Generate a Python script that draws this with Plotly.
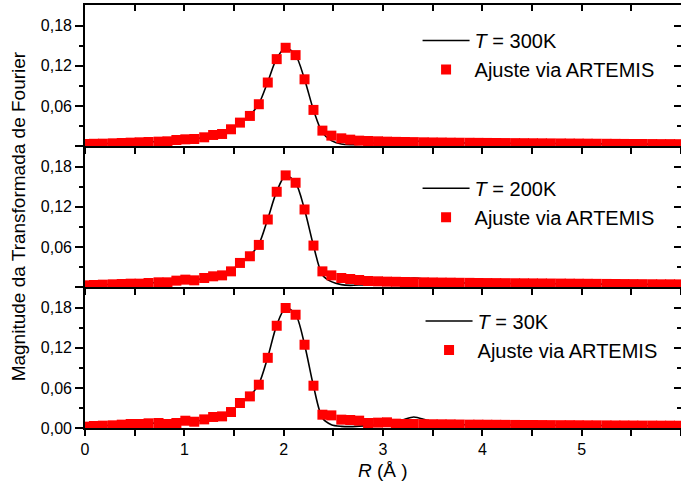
import plotly.graph_objects as go

# R grid (Å)
R = [0.00, 0.09, 0.18, 0.28, 0.37, 0.46, 0.55, 0.64, 0.74, 0.83,
     0.92, 1.01, 1.10, 1.20, 1.29, 1.38, 1.47, 1.56, 1.66, 1.75,
     1.84, 1.93, 2.02, 2.12, 2.21, 2.30, 2.39, 2.48, 2.58, 2.67,
     2.76, 2.85, 2.95, 3.04, 3.13, 3.22, 3.31, 3.41, 3.50, 3.59,
     3.68, 3.77, 3.87, 3.96, 4.05, 4.14, 4.23, 4.33, 4.42, 4.51,
     4.60, 4.69, 4.79, 4.88, 4.97, 5.06, 5.15, 5.25, 5.34, 5.43,
     5.52, 5.61, 5.71, 5.80, 5.89, 5.98]

# T = 300K
fit_300 = [0.003, 0.0033, 0.0035, 0.004, 0.0045, 0.005, 0.0055, 0.006, 0.0065, 0.007,
           0.009, 0.010, 0.0105, 0.013, 0.0165, 0.018, 0.025, 0.035, 0.045, 0.0625,
           0.095, 0.130, 0.147, 0.136, 0.0998, 0.054, 0.023, 0.0155, 0.0115, 0.0095,
           0.008, 0.0075, 0.007, 0.0065, 0.0062, 0.006, 0.0058, 0.0055, 0.0053, 0.0052,
           0.005, 0.0049, 0.0048, 0.0047, 0.0046, 0.0045, 0.0044, 0.0043, 0.0042, 0.0041,
           0.004, 0.0039, 0.0038, 0.0037, 0.0036, 0.0035, 0.0034, 0.0033, 0.0032, 0.0031,
           0.003, 0.003, 0.0029, 0.0028, 0.0028, 0.0027]
exp_300 = [0.003, 0.0033, 0.0035, 0.004, 0.0045, 0.005, 0.0055, 0.006, 0.0065, 0.007,
           0.0088, 0.0098, 0.0105, 0.013, 0.0163, 0.018, 0.025, 0.035, 0.046, 0.063,
           0.096, 0.131, 0.147, 0.136, 0.100, 0.054, 0.020, 0.008, 0.003, 0.002,
           0.0025, 0.0035, 0.005, 0.006, 0.007, 0.0075, 0.0075, 0.007, 0.006, 0.005,
           0.0047, 0.0046, 0.0046, 0.0045, 0.0044, 0.0043, 0.0042, 0.0041, 0.004, 0.0039,
           0.0038, 0.0037, 0.0036, 0.0035, 0.0034, 0.0033, 0.0032, 0.0031, 0.003, 0.003,
           0.0029, 0.0028, 0.0028, 0.0027, 0.0026, 0.0026]

# T = 200K
fit_200 = [0.0025, 0.003, 0.0035, 0.004, 0.0045, 0.005, 0.005, 0.006, 0.007, 0.007,
           0.0095, 0.011, 0.010, 0.0135, 0.016, 0.0174, 0.0234, 0.036, 0.046, 0.063,
           0.101, 0.1425, 0.167, 0.156, 0.116, 0.062, 0.0234, 0.0174, 0.0135, 0.012,
           0.0105, 0.009, 0.0085, 0.008, 0.0078, 0.0075, 0.0072, 0.007, 0.0068, 0.0066,
           0.0065, 0.0063, 0.0062, 0.006, 0.0059, 0.0058, 0.0057, 0.0056, 0.0055, 0.0054,
           0.0053, 0.0052, 0.0051, 0.005, 0.0049, 0.0048, 0.0047, 0.0046, 0.0045, 0.0044,
           0.0043, 0.0042, 0.0041, 0.004, 0.004, 0.0039]
exp_200 = [0.0025, 0.003, 0.0035, 0.004, 0.0045, 0.005, 0.005, 0.006, 0.0068, 0.007,
           0.0093, 0.0107, 0.0103, 0.0133, 0.016, 0.0175, 0.024, 0.036, 0.047, 0.064,
           0.102, 0.143, 0.167, 0.156, 0.116, 0.062, 0.018, 0.008, 0.0035, 0.0025,
           0.003, 0.004, 0.0055, 0.007, 0.0095, 0.012, 0.0135, 0.012, 0.009, 0.0072,
           0.0062, 0.006, 0.0059, 0.0057, 0.0056, 0.0055, 0.0054, 0.0053, 0.0052, 0.0051,
           0.005, 0.0049, 0.0048, 0.0047, 0.0046, 0.0045, 0.0044, 0.0043, 0.0042, 0.0041,
           0.004, 0.004, 0.0039, 0.0038, 0.0037, 0.0037]

# T = 30K
fit_30 = [0.002, 0.003, 0.0035, 0.004, 0.005, 0.006, 0.006, 0.007, 0.0075, 0.006,
          0.0075, 0.0109, 0.0094, 0.0129, 0.0165, 0.0174, 0.0239, 0.0374, 0.0473, 0.0648,
          0.105, 0.153, 0.1796, 0.1695, 0.1246, 0.0633, 0.0199, 0.0189, 0.0125, 0.012,
          0.011, 0.0075, 0.008, 0.0085, 0.0065, 0.006, 0.006, 0.0058, 0.0056, 0.0055,
          0.0054, 0.0052, 0.005, 0.005, 0.0049, 0.0048, 0.0047, 0.0046, 0.0045, 0.0045,
          0.0044, 0.0043, 0.0042, 0.0042, 0.0041, 0.004, 0.004, 0.0039, 0.0038, 0.0038,
          0.0037, 0.0036, 0.0036, 0.0035, 0.0035, 0.0034]
exp_30 = [0.002, 0.003, 0.0035, 0.004, 0.005, 0.006, 0.006, 0.007, 0.0072, 0.0065,
          0.008, 0.0102, 0.0098, 0.0127, 0.0163, 0.0175, 0.024, 0.037, 0.048, 0.066,
          0.106, 0.154, 0.180, 0.170, 0.125, 0.063, 0.015, 0.005, 0.0025, 0.002,
          0.0028, 0.0035, 0.0045, 0.0055, 0.008, 0.013, 0.0165, 0.013, 0.008, 0.0058,
          0.0052, 0.005, 0.0049, 0.0048, 0.0047, 0.0046, 0.0045, 0.0044, 0.0043, 0.0043,
          0.0042, 0.0041, 0.004, 0.004, 0.0039, 0.0038, 0.0038, 0.0037, 0.0036, 0.0036,
          0.0035, 0.0034, 0.0034, 0.0033, 0.0033, 0.0032]

temps = ["300", "200", "30"]
fit_series = [fit_300, fit_200, fit_30]
exp_series = [exp_300, exp_200, exp_30]

y_major = [0, 0.06, 0.12, 0.18]
y_minor = [0.03, 0.09, 0.15]
y_text_top = ["", "0,06", "0,12", "0,18"]
y_text_bottom = ["0,00", "0,06", "0,12", "0,18"]
x_tick_vals = [0, 1, 2, 3, 4, 5, 6]
x_tick_text = ["0", "1", "2", "3", "4", "5", "6"]
x_minor_vals = [0.5, 1.5, 2.5, 3.5, 4.5, 5.5]

FONT = "Arial, 'Liberation Sans', sans-serif"
YMAX = 0.211

# panel order top -> bottom ; axis ids
axes_ids = [("x3", "y3", "x6", "y6", "legend"),
            ("x2", "y2", "x5", "y5", "legend2"),
            ("x", "y", "x4", "y4", "legend3")]
domains = [[2/3, 1.0], [1/3, 2/3], [0.0, 1/3]]
legend_pos = [(0.558, 0.962), (0.558, 0.613), (0.563, 0.299)]

fig = go.Figure()
for i, (T, fit, ex) in enumerate(zip(temps, fit_series, exp_series)):
    xa, ya, xo, yo, lg = axes_ids[i]
    fig.add_trace(go.Scatter(x=R, y=ex, mode="lines",
                             line=dict(color="black", width=1.6, shape="spline", smoothing=0.8),
                             name=f"<i>T</i> = {T}K", xaxis=xa, yaxis=ya, legend=lg))
    fig.add_trace(go.Scatter(x=R, y=fit, mode="markers",
                             marker=dict(symbol="square", size=10, color="#ff0000",
                                         line=dict(width=0)),
                             name="Ajuste via ARTEMIS", xaxis=xa, yaxis=ya, legend=lg))
    # dummy trace for overlay axes (top / right inward ticks)
    fig.add_trace(go.Scatter(x=[None], y=[None], xaxis=xo, yaxis=yo,
                             showlegend=False, hoverinfo="skip"))

layout = dict(
    width=681, height=486,
    margin=dict(l=85, r=0, t=5, b=58),
    paper_bgcolor="white", plot_bgcolor="white",
    font=dict(family=FONT, color="black", size=16),
    showlegend=True,
)

for i in range(3):
    xa, ya, xo, yo, lg = axes_ids[i]
    xk = "xaxis" + xa[1:]
    yk = "yaxis" + ya[1:]
    xok = "xaxis" + xo[1:]
    yok = "yaxis" + yo[1:]
    bottom = (i == 2)
    layout[xk] = dict(
        domain=[0, 1], anchor=ya, range=[0, 6],
        showline=True, linecolor="black", linewidth=1.6,
        ticks="outside", ticklen=6, tickwidth=1.5, tickcolor="black",
        tickmode="array", tickvals=x_tick_vals, ticktext=x_tick_text,
        showticklabels=bottom, tickfont=dict(size=16, family=FONT),
        minor=dict(tickmode="array", tickvals=x_minor_vals,
                   ticks="outside", ticklen=6, tickwidth=1.5, tickcolor="black"),
        showgrid=False, zeroline=False, fixedrange=True,
    )
    layout[yk] = dict(
        domain=domains[i], anchor=xa, range=[0, YMAX],
        showline=True, linecolor="black", linewidth=1.6,
        ticks="outside", ticklen=8, tickwidth=1.5, tickcolor="black",
        tickmode="array", tickvals=y_major,
        ticktext=y_text_bottom if bottom else y_text_top,
        tickfont=dict(size=16, family=FONT),
        minor=dict(tickmode="array", tickvals=y_minor, ticks="outside",
                   ticklen=4, tickwidth=1.5, tickcolor="black"),
        showgrid=False, zeroline=False, fixedrange=True,
    )
    layout[xok] = dict(
        overlaying=xa, anchor=ya, side="top", range=[0, 6],
        showline=(i == 0), linecolor="black", linewidth=1.6,
        ticks="inside", ticklen=6, tickwidth=1.5, tickcolor="black",
        tickmode="array", tickvals=x_tick_vals, showticklabels=False,
        minor=dict(tickmode="array", tickvals=x_minor_vals,
                   ticks="inside", ticklen=6, tickwidth=1.5, tickcolor="black"),
        showgrid=False, zeroline=False, fixedrange=True,
    )
    layout[yok] = dict(
        overlaying=ya, anchor=xa, side="right", range=[0, YMAX],
        showline=False,
        ticks="inside", ticklen=7, tickwidth=1.5, tickcolor="black",
        tickmode="array", tickvals=y_major, showticklabels=False,
        minor=dict(tickmode="array", tickvals=y_minor, ticks="inside",
                   ticklen=4, tickwidth=1.5, tickcolor="black"),
        showgrid=False, zeroline=False, fixedrange=True,
    )
    lx, ly = legend_pos[i]
    layout[lg] = dict(x=lx, y=ly, xanchor="left", yanchor="top",
                      bgcolor="rgba(0,0,0,0)", borderwidth=0, itemwidth=47,
                      font=dict(size=20, family=FONT, color="black"),
                      tracegroupgap=0, traceorder="normal")

layout["annotations"] = [
    dict(text="Magnitude da Transformada de Fourier", xref="paper", yref="paper",
         x=-0.111, y=0.5, xanchor="center", yanchor="middle", textangle=-90,
         showarrow=False, font=dict(size=19, family=FONT, color="black")),
    dict(text="<i>R</i> (Å )", xref="paper", yref="paper",
         x=0.5, y=-0.101, xanchor="center", yanchor="middle",
         showarrow=False, font=dict(size=19, family=FONT, color="black")),
]

fig.update_layout(**layout)
fig.write_html("out.html")
